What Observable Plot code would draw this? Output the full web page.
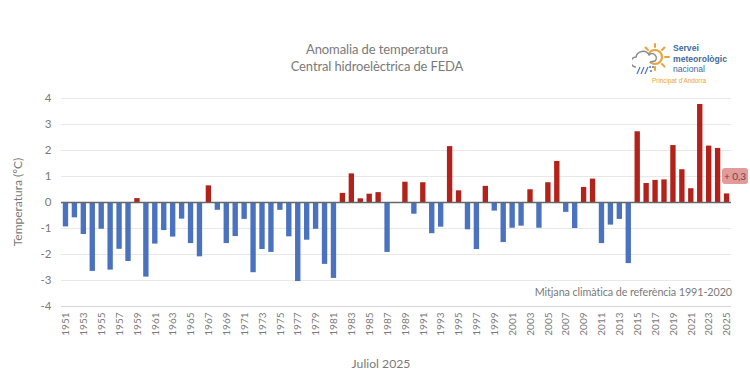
<!DOCTYPE html>
<html>
<head>
<meta charset="utf-8">
<script src="https://cdn.jsdelivr.net/npm/d3@7"></script>
<script src="https://cdn.jsdelivr.net/npm/@observablehq/plot@0.6"></script>
<style>
html,body{margin:0;padding:0;background:#fff;}
#wrap{position:relative;width:750px;height:375px;overflow:hidden;font-family:Lato,"Open Sans",sans-serif;color:#7a7a7a;}
.t{position:absolute;white-space:nowrap;}
</style>
</head>
<body>
<div id="wrap"></div>
<script>
const years = d3.range(1951, 2026);
const anomalies = [
-0.94,-0.59,-1.23,-2.65,-1.03,-2.60,-1.80,-2.27,0.15,-2.87,
-1.60,-1.08,-1.33,-0.64,-1.58,-2.09,0.64,-0.30,-1.58,-1.31,
-0.65,-2.70,-1.81,-1.92,-0.30,-1.32,-3.04,-1.45,-1.03,-2.38,
-2.92,0.35,1.10,0.14,0.32,0.38,-1.92,0,0.78,-0.45,
0.76,-1.20,-0.95,2.15,0.45,-1.05,-1.81,0.62,-0.33,-1.54,
-0.99,-0.91,0.49,-0.99,0.76,1.58,-0.38,-1.00,0.58,0.90,
-1.58,-0.87,-0.65,-2.35,2.72,0.73,0.85,0.87,2.19,1.26,
0.53,3.77,2.17,2.08,0.33];
const yTicks = [-4,-3,-2,-1,0,1,2,3,4];
const xTicks = years.filter(y => (y - 1951) % 2 === 0);
const rows = years.map((year,i)=>({year, value:anomalies[i]}));
const grey = "#7a7a7a";

const chart = Plot.plot({
  width:750, height:375,
  marginTop:98, marginBottom:69, marginLeft:61, marginRight:19,
  style:{fontFamily:"Lato, 'Open Sans', sans-serif", background:"#fff", overflow:"visible"},
  x:{type:"band", domain:years, paddingInner:0.4, paddingOuter:0.2, label:null},
  y:{domain:[-4,4], label:null},
  color:{domain:["neg","pos"], range:["#4a72bf","#b3221a"]},
  marks:[
    Plot.ruleY(yTicks.filter(d=>d!==0 && d!==-4), {y:d=>d, stroke:"#e8e8e8", strokeWidth:1}),
    Plot.ruleY([-4], {stroke:"#d4d4d4", strokeWidth:1}),
    Plot.barY(rows, {x:"year", y:"value", fill:d=>d.value>=0?"pos":"neg"}),
    Plot.ruleY([0], {stroke:"#666", strokeWidth:1.4}),
    Plot.axisY({ticks:yTicks, tickSize:0, tickPadding:10, label:null, fontSize:11.5, color:grey, tickFormat:d=>String(d)}),
    Plot.axisX({ticks:xTicks, tickSize:0, tickPadding:6, tickRotate:-90, label:null, fontSize:10, color:grey, tickFormat:d=>String(d)})
  ]
});
const wrap = document.getElementById("wrap");
wrap.appendChild(chart);
chart.style.position="absolute"; chart.style.left="0"; chart.style.top="0";

function addText(txt, css){
  const d=document.createElement("div"); d.className="t"; d.textContent=txt;
  d.style.cssText+=css; wrap.appendChild(d); return d;
}
addText("Anomalia de temperatura","left:377px;top:41px;transform:translateX(-50%);font-size:13px;letter-spacing:-0.1px;");
addText("Central hidroelèctrica de FEDA","left:377px;top:58px;transform:translateX(-50%);font-size:13px;letter-spacing:-0.13px;");
addText("Temperatura (ºC)","left:17px;top:202px;transform:translate(-50%,-50%) rotate(-90deg);font-size:12px;");
addText("Mitjana climàtica de referència 1991-2020","right:18px;top:285px;font-size:10.8px;letter-spacing:-0.1px;");
addText("Juliol 2025","left:381px;top:356px;transform:translateX(-50%);font-size:12.2px;");
addText("+ 0,3","left:722px;top:168px;width:26px;height:16px;line-height:16px;text-align:center;background:#e29a9a;border-radius:3px;font-size:10px;color:#6b4a4a;");

// logo
const ns = `<svg xmlns="http://www.w3.org/2000/svg" width="40" height="36" viewBox="0 0 40 36" style="position:absolute;left:632px;top:43px">
<g stroke="#e8a33d" stroke-width="2" stroke-linecap="round">
<line x1="23" y1="1" x2="23" y2="4"/><line x1="23" y1="24" x2="23" y2="27"/>
<line x1="33" y1="14" x2="37" y2="14"/><line x1="30" y1="7" x2="32.5" y2="4.5"/>
<line x1="30" y1="21" x2="32.5" y2="23.5"/><line x1="16" y1="7" x2="13.5" y2="4.5"/></g>
<circle cx="23" cy="14" r="7" fill="none" stroke="#e8a33d" stroke-width="2.2"/>
<path d="M4 24 a5 5 0 0 1 0-10 a7 7 0 0 1 13 -2 a4 4 0 0 1 6 6 l-5 1" fill="#fff" stroke="#8a8a8a" stroke-width="1.5"/>
<g stroke="#4a72bf" stroke-width="1.2"><line x1="5" y1="31" x2="8" y2="24"/><line x1="9" y1="31" x2="12" y2="24"/><line x1="13" y1="31" x2="16" y2="24"/></g>
<g fill="#4a72bf"><circle cx="18" cy="24" r="1"/><circle cx="21" cy="24" r="1"/><circle cx="19" cy="28" r="1"/></g>
</svg>`;
wrap.insertAdjacentHTML("beforeend", ns);
addText("Servei","left:673px;top:43px;font:bold 8.6px 'Liberation Sans',sans-serif;color:#3f6a9a;");
addText("meteorològic","left:673px;top:54px;font:bold 8.6px 'Liberation Sans',sans-serif;color:#3f6a9a;");
addText("nacional","left:673px;top:64px;font:8.6px 'Liberation Sans',sans-serif;color:#3f6a9a;");
addText("Principat d'Andorra","left:652px;top:77px;font:6.4px 'Liberation Sans',sans-serif;color:#e8a33d;");
</script>
</body>
</html>
